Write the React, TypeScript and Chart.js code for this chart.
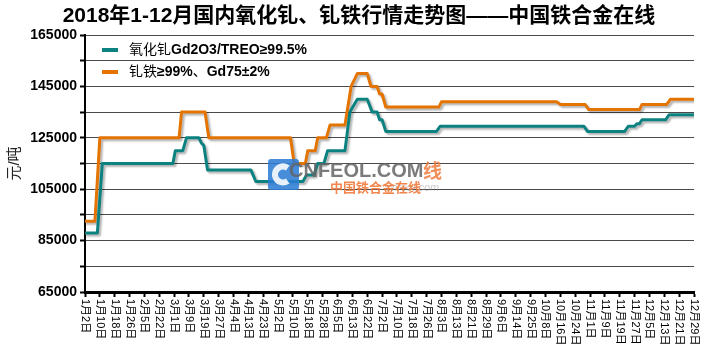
import React, { useEffect, useRef } from "react";
import { Chart, registerables } from "chart.js";

Chart.register(...registerables);

const chartTitle = "2018年1-12月国内氧化钆、钆铁行情走势图——中国铁合金在线";
const yAxisTitle = "元/吨";

const tickLabels = [
  "1月2日", "1月10日", "1月18日", "1月26日", "2月5日", "2月22日",
  "3月1日", "3月9日", "3月19日", "3月27日", "4月4日", "4月13日", "4月23日",
  "5月2日", "5月10日", "5月18日", "5月28日", "6月5日", "6月13日", "6月22日",
  "7月2日", "7月10日", "7月18日", "7月26日", "8月3日", "8月13日", "8月21日", "8月29日",
  "9月6日", "9月14日", "9月25日", "10月8日", "10月16日", "10月24日",
  "11月1日", "11月9日", "11月19日", "11月27日", "12月5日", "12月13日", "12月21日", "12月29日",
];
const daysPerLabel = 6;

const oxideName = "氧化钆Gd2O3/TREO≥99.5%";
const oxideDays = [0, 5, 7, 35.5, 36.5, 39.5, 41, 46, 47, 48, 49.5, 67, 69, 88, 89.5, 92.5, 94, 96.5, 98, 105, 107, 110, 114, 116, 118, 119, 120, 121.5, 142, 143.5, 201.5, 203, 218, 219.5, 222, 223, 224, 225, 234.5, 236, 246];
const oxidePrices = [88000, 88000, 115000, 115000, 120000, 120000, 125000, 125000, 123000, 122000, 112500, 112500, 108000, 108000, 110500, 110500, 115000, 115000, 120000, 120000, 135000, 140000, 140000, 135000, 135000, 132000, 132000, 127500, 127500, 129500, 129500, 127500, 127500, 129500, 129500, 130500, 130500, 132000, 132000, 134000, 134000];

const ironName = "钆铁≥99%、Gd75±2%";
const ironDays = [0, 4, 6, 38, 39, 48.5, 50, 83, 84.5, 89, 90, 93, 94, 97.5, 99, 105, 107.5, 110, 114, 115.5, 118, 119, 120, 121.5, 143, 144, 190.5, 192, 202, 203.5, 224, 225, 235, 236.5, 246];
const ironPrices = [92500, 92500, 125000, 125000, 135000, 135000, 125000, 125000, 115000, 115000, 120000, 120000, 125000, 125000, 130000, 130000, 145000, 150000, 150000, 145000, 145000, 142000, 142000, 137000, 137000, 139000, 139000, 138000, 138000, 136000, 136000, 138000, 138000, 140000, 140000];

const yMin = 65000;
const yMax = 165000;
const yStep = 10000;
const yLabelStep = 20000;

const TEAL = "#0B8180";
const ORANGE = "#E47300";
const FONT = '"Liberation Sans", "Noto Sans CJK SC", sans-serif';

const shadowPlugin = {
  id: "lineShadow",
  beforeDatasetDraw(chart: any) {
    const ctx = chart.ctx;
    ctx.save();
    ctx.shadowColor = "rgba(0,0,0,0.3)";
    ctx.shadowOffsetX = 2;
    ctx.shadowOffsetY = 2;
    ctx.shadowBlur = 2;
  },
  afterDatasetDraw(chart: any) {
    chart.ctx.restore();
  },
};

const titlePlugin = {
  id: "mainTitle",
  afterDraw(chart: any) {
    const ctx = chart.ctx;
    ctx.save();
    ctx.fillStyle = "#000";
    ctx.font = `bold 21px ${FONT}`;
    ctx.textAlign = "center";
    ctx.textBaseline = "middle";
    ctx.fillText(chartTitle, 359, 16);
    ctx.restore();
  },
};

const xLabelPlugin = {
  id: "xLabels",
  afterDraw(chart: any) {
    const ctx = chart.ctx;
    const xs = chart.scales.x;
    const top = chart.chartArea.bottom + 7;
    ctx.save();
    ctx.fillStyle = "#000";
    ctx.font = `11px ${FONT}`;
    ctx.textAlign = "left";
    ctx.textBaseline = "middle";
    tickLabels.forEach((lab, i) => {
      const x = xs.getPixelForValue(i * daysPerLabel);
      ctx.save();
      ctx.translate(x, top);
      ctx.rotate(Math.PI / 2);
      ctx.fillText(lab, 0, 0);
      ctx.restore();
    });
    ctx.restore();
  },
};

function drawMixed(ctx: CanvasRenderingContext2D, text: string, x: number, y: number, size: number) {
  const runs = text.match(/[\u3000-\u9fff]+|[^\u3000-\u9fff]+/g) || [];
  let cx = x;
  for (const run of runs) {
    const cjk = /[\u3000-\u9fff]/.test(run);
    ctx.font = `${cjk ? "normal" : "bold"} ${size}px ${FONT}`;
    ctx.fillText(run, cx, y);
    cx += ctx.measureText(run).width;
  }
}

const legendPlugin = {
  id: "innerLegend",
  afterDatasetsDraw(chart: any) {
    const ctx = chart.ctx;
    const left = chart.chartArea.left;
    const top = chart.chartArea.top;
    ctx.save();
    chart.data.datasets.forEach((ds: any, i: number) => {
      const y = top + 15 + i * 22;
      ctx.strokeStyle = ds.borderColor;
      ctx.lineWidth = 4;
      ctx.beginPath();
      ctx.moveTo(left + 17, y);
      ctx.lineTo(left + 33, y);
      ctx.stroke();
      ctx.fillStyle = "#000";
      ctx.textBaseline = "middle";
      ctx.textAlign = "left";
      drawMixed(ctx, ds.label, left + 44, y, 14);
    });
    ctx.restore();
  },
};

const watermarkPlugin = {
  id: "watermark",
  afterDatasetsDraw(chart: any) {
    const ctx = chart.ctx;
    ctx.save();
    ctx.globalAlpha = 0.88;
    ctx.fillStyle = "#2E7DD4";
    ctx.beginPath();
    (ctx as any).roundRect(268, 159, 31, 31, 3);
    ctx.fill();
    ctx.strokeStyle = "#ffffff";
    ctx.lineWidth = 6;
    ctx.beginPath();
    ctx.arc(283, 174.5, 8, 0.3 * Math.PI, 1.7 * Math.PI);
    ctx.stroke();
    ctx.globalAlpha = 0.85;
    ctx.fillStyle = "#646464";
    ctx.font = `bold 20px ${FONT}`;
    ctx.textBaseline = "alphabetic";
    ctx.textAlign = "left";
    ctx.fillText("CNFEOL.COM", 289, 177);
    ctx.fillStyle = "#F07A3C";
    ctx.font = `bold 19px "Noto Sans CJK SC", sans-serif`;
    ctx.fillText("线", 423, 178);
    ctx.globalAlpha = 0.5;
    ctx.fillStyle = "#999";
    ctx.font = `italic 11px ${FONT}`;
    ctx.fillText("cnfeol.com", 386, 191);
    ctx.globalAlpha = 0.9;
    ctx.fillStyle = "#F07A3C";
    ctx.font = `bold 13px "Noto Sans CJK SC", sans-serif`;
    ctx.fillText("中国铁合金在线", 330, 192);
    ctx.restore();
  },
};

export default function App() {
  const ref = useRef<HTMLCanvasElement | null>(null);
  useEffect(() => {
    document.body.style.margin = "0";
    const canvas = ref.current;
    if (!canvas) return;
    const chart = new Chart(canvas, {
      type: "line",
      data: {
        datasets: [
          {
            label: oxideName,
            data: oxideDays.map((d, i) => ({ x: d, y: oxidePrices[i] })),
            borderColor: TEAL,
            backgroundColor: TEAL,
            borderWidth: 3,
            pointRadius: 0,
            tension: 0,
            borderJoinStyle: "round",
            borderCapStyle: "round",
            fill: false,
          },
          {
            label: ironName,
            data: ironDays.map((d, i) => ({ x: d, y: ironPrices[i] })),
            borderColor: ORANGE,
            backgroundColor: ORANGE,
            borderWidth: 3,
            pointRadius: 0,
            tension: 0,
            borderJoinStyle: "round",
            borderCapStyle: "round",
            fill: false,
          },
        ],
      },
      options: {
        responsive: false,
        animation: false,
        layout: { padding: { left: 0, right: 14, top: 35, bottom: 0 } },
        plugins: {
          legend: { display: false },
          tooltip: { enabled: false },
          title: { display: false },
        },
        scales: {
          x: {
            type: "linear",
            min: 0,
            max: (tickLabels.length - 1) * daysPerLabel,
            ticks: { stepSize: daysPerLabel, display: false },
            grid: { drawOnChartArea: false, drawTicks: true, tickLength: 5, tickColor: "#000", tickWidth: 2 },
            border: { color: "#000", width: 3 },
            afterFit: (s: any) => { s.height = 60; },
          },
          y: {
            min: yMin,
            max: yMax,
            ticks: {
              stepSize: yStep,
              autoSkip: false,
              padding: 3,
              color: "#000",
              font: { family: FONT, size: 14, weight: "bold" },
              callback: (v: any) => ((Number(v) - yMin) % yLabelStep === 0 ? String(v) : ""),
            },
            grid: { color: "#4a4a4a", lineWidth: 1, tickLength: 5, tickColor: "#000", tickWidth: 2 },
            border: { color: "#000", width: 2 },
            title: {
              display: true,
              text: yAxisTitle,
              color: "#222",
              font: { family: FONT, size: 15 },
              padding: { top: 6, bottom: 0 },
            },
            afterFit: (s: any) => { s.width = 85; },
          },
        },
      },
      plugins: [shadowPlugin, legendPlugin, watermarkPlugin, xLabelPlugin, titlePlugin],
    } as any);
    return () => chart.destroy();
  }, []);
  return (
    <div style={{ width: 708, height: 352, position: "relative" }}>
      <canvas ref={ref} width={708} height={352} style={{ display: "block" }} />
    </div>
  );
}
